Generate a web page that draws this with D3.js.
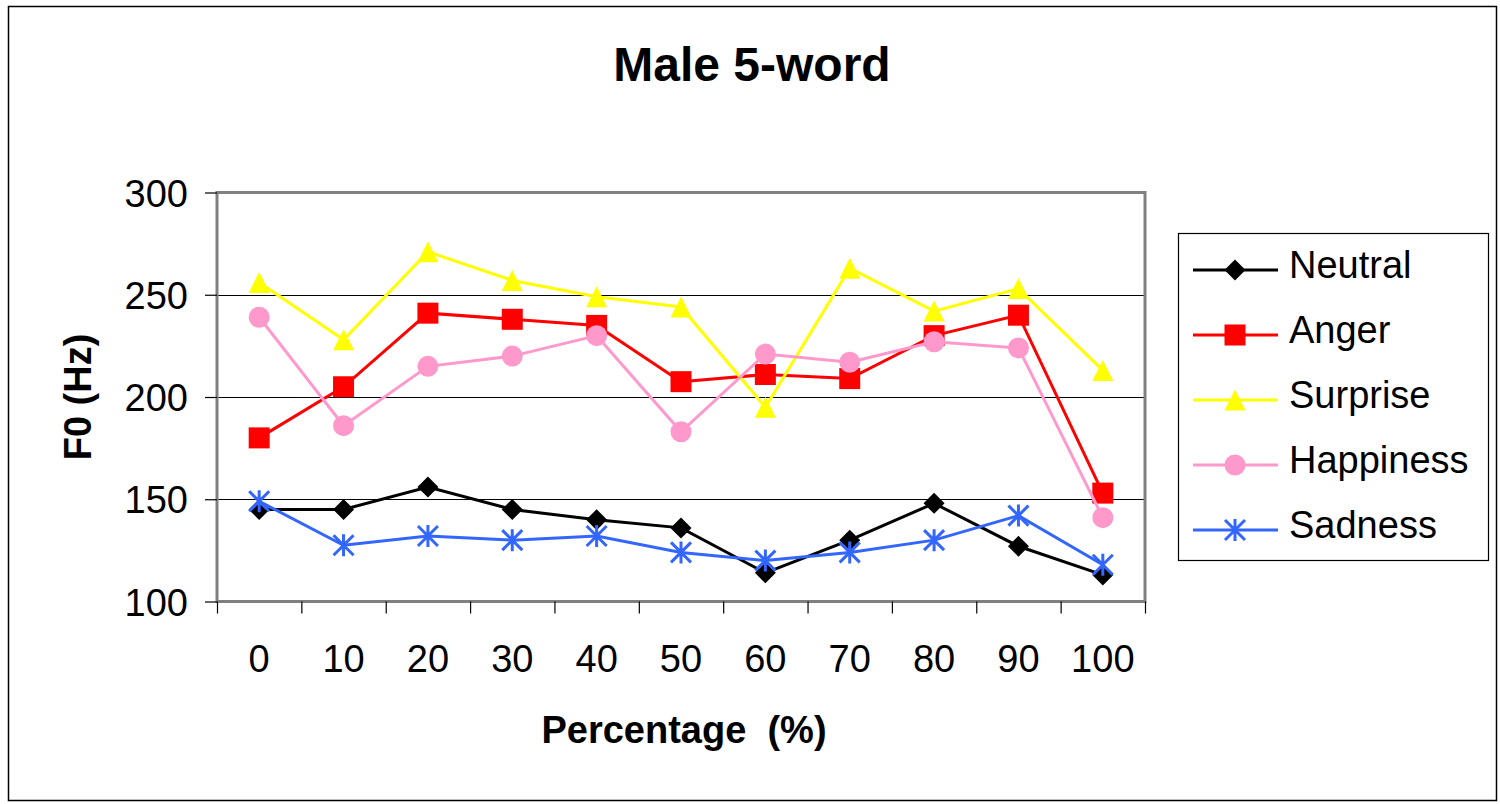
<!DOCTYPE html>
<html>
<head>
<meta charset="utf-8">
<script src="https://cdn.jsdelivr.net/npm/d3@7/dist/d3.min.js"></script>
<style>
  body { margin: 0; background: #fff; }
  text { font-family: "Liberation Sans", Arial, sans-serif; fill: #000; }
</style>
</head>
<body>
<div id="chart"></div>
<script>
// data
const categories = ["0", "10", "20", "30", "40", "50", "60", "70", "80", "90", "100"];
const neutral   = [145, 145, 156, 145, 140, 136, 114, 130, 148, 127, 113];
const anger     = [180, 205, 241, 238, 235, 207.5, 211, 209, 230, 240, 153];
const surprise  = [256, 228, 271, 257, 249, 244, 195, 263, 242, 253, 213];
const happiness = [239, 186, 215, 220, 230, 183, 221, 217, 227, 224, 141];
const sadness   = [149, 127.5, 132, 130, 132, 124, 120, 124, 130, 142, 118];
const yTicks = [100, 150, 200, 250, 300];

const series = [
  { name: "Neutral",   values: neutral,   color: "#000000", marker: "diamond" },
  { name: "Anger",     values: anger,     color: "#FF0000", marker: "square" },
  { name: "Surprise",  values: surprise,  color: "#FFFF00", marker: "triangle" },
  { name: "Happiness", values: happiness, color: "#FF99CC", marker: "circle" },
  { name: "Sadness",   values: sadness,   color: "#3366FF", marker: "star" }
];

const W = 1500, H = 804;
const PLOT = { left: 217, right: 1145, top: 192.5, bottom: 601.5 };

const svg = d3.select("#chart").append("svg")
  .attr("width", W).attr("height", H);

// outer chart border
svg.append("rect")
  .attr("x", 8.5).attr("y", 6.5).attr("width", 1488).attr("height", 794)
  .attr("fill", "#fff").attr("stroke", "#000").attr("stroke-width", 1.5);

const x = d3.scaleBand().domain(categories).range([PLOT.left, PLOT.right]);
const y = d3.scaleLinear().domain([100, 300]).range([PLOT.bottom, PLOT.top]);
const cx = c => x(c) + x.bandwidth() / 2;

// gridlines
svg.append("g").selectAll("line")
  .data(yTicks.filter(t => t > 100 && t < 300)).join("line")
  .attr("x1", PLOT.left).attr("x2", PLOT.right)
  .attr("y1", d => Math.round(y(d)) + 0.5).attr("y2", d => Math.round(y(d)) + 0.5)
  .attr("stroke", "#000").attr("stroke-width", 1);

// plot frame (grey)
svg.append("rect")
  .attr("x", PLOT.left).attr("y", PLOT.top)
  .attr("width", PLOT.right - PLOT.left).attr("height", PLOT.bottom - PLOT.top)
  .attr("fill", "none").attr("stroke", "#808080").attr("stroke-width", 3);

// y axis
const yAxis = d3.axisLeft(y).tickValues(yTicks).tickSize(12).tickPadding(17);
const gy = svg.append("g").attr("transform", `translate(${PLOT.left},0)`).call(yAxis);
gy.select(".domain").remove();
gy.selectAll(".tick line").attr("stroke", "#000").attr("stroke-width", 1.2);
gy.selectAll(".tick text").style("font-size", "38px").attr("dy", "0.36em");

// x axis: ticks on band boundaries, labels at band centres
const xb = d3.scaleLinear().domain([0, categories.length]).range([PLOT.left, PLOT.right]);
const gxTicks = svg.append("g").attr("transform", `translate(0,${PLOT.bottom})`)
  .call(d3.axisBottom(xb).tickValues(d3.range(categories.length + 1)).tickSize(12).tickFormat(""));
gxTicks.select(".domain").remove();
gxTicks.selectAll(".tick line").attr("stroke", "#000").attr("stroke-width", 1.2);

const gx = svg.append("g").attr("transform", `translate(0,${PLOT.bottom})`)
  .call(d3.axisBottom(x).tickSize(0).tickPadding(44));
gx.select(".domain").remove();
gx.selectAll(".tick text").style("font-size", "38px");

// marker shapes
function drawMarker(g, type, color, px, py) {
  const s = 10.5;
  if (type === "diamond") {
    g.append("path").attr("d", `M${px},${py - s}L${px + s},${py}L${px},${py + s}L${px - s},${py}Z`)
      .attr("fill", color);
  } else if (type === "square") {
    g.append("rect").attr("x", px - s).attr("y", py - s).attr("width", 2 * s).attr("height", 2 * s)
      .attr("fill", color);
  } else if (type === "triangle") {
    g.append("path").attr("d", `M${px},${py - s}L${px + s},${py + s}L${px - s},${py + s}Z`)
      .attr("fill", color);
  } else if (type === "circle") {
    g.append("circle").attr("cx", px).attr("cy", py).attr("r", s).attr("fill", color);
  } else if (type === "star") {
    const r = 10;
    g.append("path")
      .attr("d", `M${px - r},${py - r}L${px + r},${py + r}M${px - r},${py + r}L${px + r},${py - r}M${px},${py - r - 1}L${px},${py + r + 1}`)
      .attr("stroke", color).attr("stroke-width", 3).attr("fill", "none");
  }
}

const line = d3.line().x((d, i) => cx(categories[i])).y(d => y(d));

series.forEach(s => {
  const g = svg.append("g");
  g.append("path").attr("d", line(s.values))
    .attr("fill", "none").attr("stroke", s.color).attr("stroke-width", 3)
    .attr("stroke-linejoin", "miter");
  s.values.forEach((v, i) => drawMarker(g, s.marker, s.color, cx(categories[i]), y(v)));
});

// titles
svg.append("text").attr("x", 752).attr("y", 81).attr("text-anchor", "middle")
  .style("font-size", "48px").style("font-weight", "bold").text("Male 5-word");

svg.append("text").attr("transform", "translate(91,397) rotate(-90)").attr("text-anchor", "middle")
  .style("font-size", "38px").style("font-weight", "bold").text("F0 (Hz)");

svg.append("text").attr("x", 684).attr("y", 743).attr("text-anchor", "middle")
  .style("font-size", "38px").style("font-weight", "bold").style("white-space", "pre")
  .text("Percentage  (%)");

// legend
const legend = svg.append("g");
legend.append("rect").attr("x", 1178.5).attr("y", 233.5).attr("width", 310).attr("height", 327)
  .attr("fill", "#fff").attr("stroke", "#000").attr("stroke-width", 1.2);

series.forEach((s, i) => {
  const ly = 270 + i * 65;
  const g = legend.append("g");
  g.append("line").attr("x1", 1193).attr("x2", 1278).attr("y1", ly).attr("y2", ly)
    .attr("stroke", s.color).attr("stroke-width", 3);
  drawMarker(g, s.marker, s.color, 1235, ly);
  g.append("text").attr("x", 1289).attr("y", ly).attr("dy", "0.22em")
    .style("font-size", "38px").text(s.name);
});
</script>
</body>
</html>
